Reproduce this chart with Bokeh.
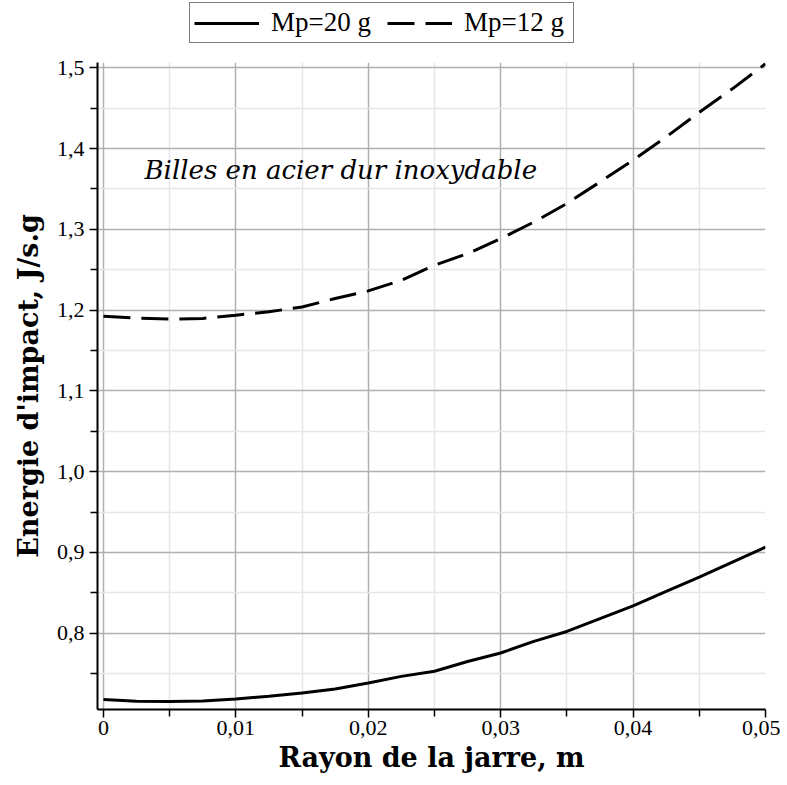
from bokeh.plotting import figure
from bokeh.layouts import column
from bokeh.models import Range1d, FixedTicker, Legend, LegendItem, Label, ColumnDataSource
from bokeh.embed import file_html
from bokeh.resources import INLINE

# ---- data ----
radius = [0.0, 0.0025, 0.005, 0.0075, 0.01, 0.0125, 0.015, 0.0175, 0.02, 0.0225,
          0.025, 0.0275, 0.03, 0.0325, 0.035, 0.0375, 0.04, 0.0425, 0.045, 0.0475, 0.05]
energy_20g = [0.718, 0.7157, 0.7155, 0.716, 0.7187, 0.722, 0.726, 0.731, 0.7385, 0.7466,
              0.753, 0.765, 0.7755, 0.790, 0.8022, 0.818, 0.834, 0.8517, 0.8695, 0.888, 0.9066]
energy_12g = [1.1926, 1.190, 1.1889, 1.1897, 1.1938, 1.198, 1.204, 1.2144, 1.2239, 1.237,
              1.2556, 1.270, 1.2886, 1.309, 1.332, 1.3587, 1.3856, 1.4144, 1.445, 1.474, 1.505]

series_labels = ["Mp=20 g", "Mp=12 g"]

x_major_ticks = [0.0, 0.01, 0.02, 0.03, 0.04, 0.05]
x_tick_labels = ["0", "0,01", "0,02", "0,03", "0,04", "0,05"]
x_minor_ticks = [0.005, 0.015, 0.025, 0.035, 0.045]

y_major_ticks = [0.8, 0.9, 1.0, 1.1, 1.2, 1.3, 1.4, 1.5]
y_tick_labels = ["0,8", "0,9", "1,0", "1,1", "1,2", "1,3", "1,4", "1,5"]
y_minor_ticks = [0.75, 0.85, 0.95, 1.05, 1.15, 1.25, 1.35, 1.45]

x_title = "Rayon de la jarre, m"
y_title = "Energie d'impact, J/s.g"
note_text = "Billes en acier dur inoxydable"
note_pos = (0.0031, 1.373)

src = ColumnDataSource(dict(x=radius, a=energy_20g, b=energy_12g))

W = 780
LEG_H = 54
MAIN_H = 729

# ---------------- main chart ----------------
p = figure(width=W, height=MAIN_H, output_backend="svg", toolbar_location=None,
           x_range=Range1d(-0.00045, 0.05), y_range=Range1d(0.7056, 1.5066),
           min_border_left=97, min_border_right=15, min_border_top=8, min_border_bottom=74)
p.outline_line_color = None
p.background_fill_color = "white"
p.border_fill_color = "white"

xt = FixedTicker(ticks=x_major_ticks, minor_ticks=x_minor_ticks)
yt = FixedTicker(ticks=y_major_ticks, minor_ticks=y_minor_ticks)
p.xaxis.ticker = xt
p.yaxis.ticker = yt
p.xgrid.ticker = xt
p.ygrid.ticker = yt
p.xaxis.major_label_overrides = dict(zip(x_major_ticks, x_tick_labels))
p.yaxis.major_label_overrides = dict(zip(y_major_ticks, y_tick_labels))

for g in (p.xgrid, p.ygrid):
    g.grid_line_color = "#b0b0b0"
    g.grid_line_width = 1.5
    g.minor_grid_line_color = "#e6e6e6"
    g.minor_grid_line_width = 1.5

for ax in (p.xaxis, p.yaxis):
    ax.axis_line_color = "black"
    ax.axis_line_width = 2
    ax.major_tick_line_color = "black"
    ax.major_tick_line_width = 1.5
    ax.minor_tick_line_color = "black"
    ax.minor_tick_line_width = 1.5
    ax.major_tick_in = 0
    ax.major_tick_out = 8
    ax.minor_tick_in = 0
    ax.minor_tick_out = 7
    ax.major_label_text_font = "Liberation Serif"
    ax.major_label_text_font_size = "22px"
    ax.major_label_text_color = "black"
    ax.axis_label_text_font = "DejaVu Serif"
    ax.axis_label_text_font_style = "bold"
    ax.axis_label_text_font_size = "27px"
    ax.axis_label_text_color = "black"

p.xaxis.axis_label = x_title
p.yaxis.axis_label = y_title
p.xaxis.major_label_standoff = 3
p.xaxis.axis_label_standoff = 4
p.yaxis.major_label_standoff = 5
p.yaxis.axis_label_standoff = 10

r1 = p.line("x", "a", source=src, line_color="black", line_width=3)
r2 = p.line("x", "b", source=src, line_color="black", line_width=3, line_dash="27 11")

note = Label(x=note_pos[0], y=note_pos[1], text=note_text, text_font="DejaVu Serif",
             text_font_style="italic", text_font_size="26px", text_color="black",
             text_baseline="alphabetic")
p.add_layout(note)

# ---------------- legend strip above the chart ----------------
# (its frame is aligned with the chart's frame by the column layout; the two
#  key lines use the same data but sit outside this strip's ranges, so only
#  their legend glyphs show)
lf = figure(width=W, height=LEG_H, output_backend="svg", toolbar_location=None,
            x_range=Range1d(10, 11), y_range=Range1d(10, 11),
            x_axis_location=None, y_axis_location=None,
            min_border_left=97, min_border_right=15, min_border_top=0, min_border_bottom=0)
lf.outline_line_color = None
lf.xgrid.visible = False
lf.ygrid.visible = False
k1 = lf.line("x", "a", source=src, line_color="black", line_width=3)
k2 = lf.line("x", "b", source=src, line_color="black", line_width=3, line_dash="27 11")

legend = Legend(items=[LegendItem(label=series_labels[0], renderers=[k1]),
                       LegendItem(label=series_labels[1], renderers=[k2])],
                orientation="horizontal", location=(92, 11),
                margin=0, padding=4,
                spacing=11, label_standoff=12, glyph_width=65, glyph_height=20,
                label_width=105, label_text_font="Liberation Serif",
                label_text_font_size="27px", label_text_color="black",
                border_line_color="black", border_line_width=1.5,
                background_fill_color="white", background_fill_alpha=1.0)
lf.add_layout(legend, "center")

layout = column(lf, p, spacing=0)
open("out.html", "w").write(file_html(layout, INLINE))
